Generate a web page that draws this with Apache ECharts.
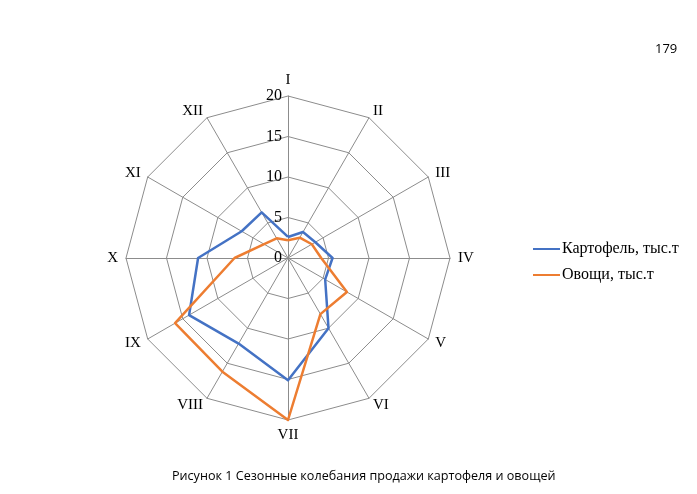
<!DOCTYPE html>
<html>
<head>
<meta charset="utf-8">
<script src="https://cdn.jsdelivr.net/npm/echarts@6/dist/echarts.min.js"></script>
<style>
  html, body { margin: 0; padding: 0; background: #fff; }
  #chart { width: 697px; height: 494px; }
</style>
</head>
<body>
<div id="chart"></div>
<script>
// месяцы (оси радара), по часовой стрелке от верха
const months = ['I', 'II', 'III', 'IV', 'V', 'VI', 'VII', 'VIII', 'IX', 'X', 'XI', 'XII'];
const potato = [2.6, 3.7, 3.9, 5.5, 5.3, 10.0, 15.1, 12.2, 14.1, 11.1, 6.6, 6.5];
const vegetables = [2.2, 2.9, 3.4, 4.1, 8.4, 8.0, 20.0, 16.2, 16.1, 6.6, 3.4, 2.8];
const seriesNames = ['Картофель, тыс.т', 'Овощи, тыс.т'];
const maxValue = 20;

// echarts кладёт оси против часовой стрелки — переставляем порядок
const order = [0].concat(months.map((m, i) => i).slice(1).reverse());
const pick = arr => order.map(i => arr[i]);

const chart = echarts.init(document.getElementById('chart'), null, {renderer: 'canvas'});

chart.setOption({
  animation: false,
  title: [{
    text: 'Рисунок 1 Сезонные колебания продажи картофеля и овощей',
    left: 167,
    top: 465,
    textStyle: {fontFamily: 'Open Sans', fontSize: 12.6, fontWeight: 'normal', color: '#000'}
  }, {
    text: '179',
    left: 650,
    top: 38,
    textStyle: {fontFamily: 'Open Sans', fontSize: 13, fontWeight: 'normal', color: '#000'}
  }],
  legend: {
    orient: 'vertical',
    left: 528,
    top: 236,
    itemWidth: 27,
    itemHeight: 2,
    itemGap: 10,
    icon: 'rect',
    data: seriesNames,
    textStyle: {fontFamily: 'Liberation Serif', fontSize: 16, color: '#000', padding: [0, 0, 0, -3]}
  },
  radar: {
    center: [288, 258],
    radius: 162,
    startAngle: 90,
    shape: 'polygon',
    splitNumber: 4,
    indicator: pick(months).map(m => ({name: m, min: 0, max: maxValue})),
    axisName: {color: '#000', fontFamily: 'Liberation Serif', fontSize: 15},
    nameGap: 8,
    splitArea: {show: false},
    splitLine: {lineStyle: {color: '#8c8c8c', width: 1}},
    axisLine: {lineStyle: {color: '#8c8c8c', width: 1}}
  },
  polar: {center: [288, 258], radius: 162},
  angleAxis: {type: 'value', startAngle: 90, show: false},
  radiusAxis: {
    type: 'value',
    min: 0,
    max: maxValue,
    interval: 5,
    axisLine: {show: false},
    axisTick: {show: false},
    splitLine: {show: false},
    axisLabel: {fontFamily: 'Liberation Serif', fontSize: 16, color: '#000', margin: 6}
  },
  series: [{
    type: 'radar',
    symbol: 'none',
    data: [
      {name: seriesNames[0], value: pick(potato),
        lineStyle: {color: '#4472c4', width: 2.5}, itemStyle: {color: '#4472c4'}},
      {name: seriesNames[1], value: pick(vegetables),
        lineStyle: {color: '#ed7d31', width: 2.5}, itemStyle: {color: '#ed7d31'}}
    ]
  }]
});
</script>
</body>
</html>
